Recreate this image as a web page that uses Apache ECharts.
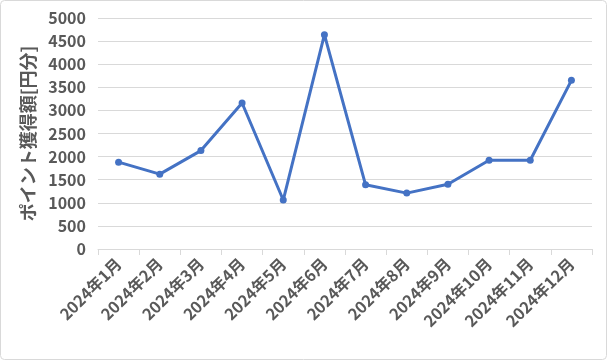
<!DOCTYPE html>
<html><head><meta charset="utf-8">
<script src="https://cdn.jsdelivr.net/npm/echarts@6/dist/echarts.min.js"></script>
<style>html,body{margin:0;padding:0;background:#fff}#c{width:607px;height:360px}</style>
</head><body><div id="c"></div>
<script>
const categories = ['2024年1月','2024年2月','2024年3月','2024年4月','2024年5月','2024年6月','2024年7月','2024年8月','2024年9月','2024年10月','2024年11月','2024年12月'];
const values = [1880, 1620, 2130, 3160, 1060, 4640, 1390, 1210, 1400, 1920, 1920, 3650];
const yTitle = 'ポイント獲得額[円分]';
const fontFam = '"Noto Sans CJK JP", "Noto Sans", sans-serif';
const chart = echarts.init(document.getElementById('c'));
chart.setOption({
  animation: false,
  graphic: [{type:'rect', shape:{x:0.5,y:0.5,width:606,height:359,r:4}, style:{fill:'none',stroke:'#d9d9d9',lineWidth:1}, z:-1}],
  grid: {left: 98, right: 15, top: 18, bottom: 111},
  xAxis: {
    type: 'category', data: categories, boundaryGap: true,
    axisLine: {lineStyle: {color: '#d9d9d9'}},
    axisTick: {show: true, length: 6, lineStyle: {color: '#d9d9d9'}},
    axisLabel: {rotate: 45, interval: 0, color: '#595959', fontSize: 16, fontWeight: 'bold', fontFamily: fontFam, margin: 12}
  },
  yAxis: {
    type: 'value', min: 0, max: 5000, interval: 500,
    name: yTitle, nameLocation: 'middle', nameGap: 61, nameRotate: 90,
    nameTextStyle: {color: '#595959', fontSize: 18, fontWeight: 'bold', fontFamily: fontFam},
    axisLine: {show: false}, axisTick: {show: false},
    axisLabel: {color: '#595959', fontSize: 16, fontWeight: 'bold', fontFamily: fontFam, margin: 12, formatter: v => String(v)},
    splitLine: {lineStyle: {color: '#d9d9d9'}}
  },
  series: [{
    type: 'line', data: values,
    lineStyle: {color: '#4472C4', width: 3},
    itemStyle: {color: '#4472C4'},
    symbol: 'circle', symbolSize: 7
  }]
});
</script></body></html>
